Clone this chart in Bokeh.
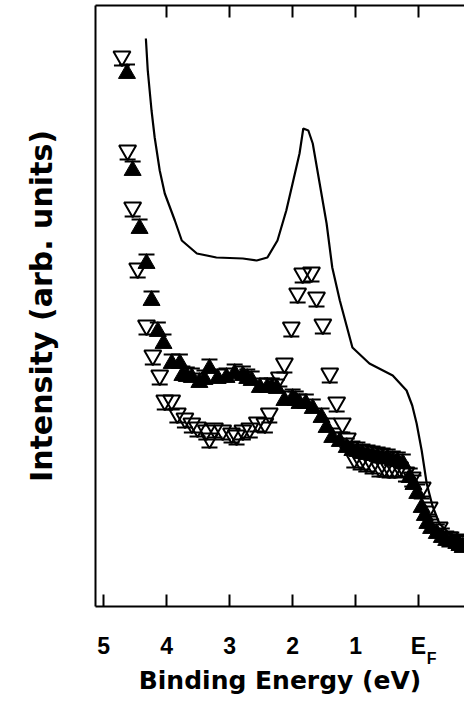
from bokeh.plotting import figure
from bokeh.models import Range1d, LinearAxis, FixedTicker
from bokeh.embed import file_html
from bokeh.resources import INLINE

# Binding energy (eV) and intensity (arb. units)
open_x = [4.71, 4.62, 4.54, 4.46, 4.32, 4.22, 4.11, 4.03, 3.92, 3.83, 3.71, 3.60,
          3.51, 3.37, 3.32, 3.24, 3.11, 2.97, 2.89, 2.79, 2.68, 2.56, 2.44, 2.37,
          2.21, 2.13, 2.02, 1.92, 1.84, 1.70, 1.62, 1.52, 1.41, 1.30, 1.21, 1.13,
          1.02, 0.92, 0.83, 0.73, 0.62, 0.54, 0.46, 0.38, 0.30, 0.20, 0.10, -0.06,
          -0.17, -0.33, -0.49, -0.65]
open_y = [5.50, 4.56, 3.99, 3.38, 2.81, 2.51, 2.31, 2.06, 2.06, 1.93, 1.88, 1.83,
          1.79, 1.76, 1.68, 1.78, 1.76, 1.73, 1.71, 1.76, 1.78, 1.84, 1.83, 1.93,
          2.29, 2.43, 2.79, 3.13, 3.33, 3.34, 3.09, 2.82, 2.33, 2.04, 1.83, 1.68,
          1.48, 1.46, 1.44, 1.42, 1.39, 1.39, 1.38, 1.38, 1.39, 1.34, 1.29, 1.19,
          0.99, 0.79, 0.69, 0.66]

filled_x = [4.63, 4.54, 4.43, 4.32, 4.24, 4.14, 4.05, 3.92, 3.79, 3.75, 3.68, 3.60,
            3.48, 3.40, 3.32, 3.19, 3.05, 2.92, 2.79, 2.72, 2.65, 2.52, 2.40, 2.33,
            2.25, 2.13, 2.00, 1.95, 1.89, 1.79, 1.68, 1.54, 1.46, 1.37, 1.25, 1.14,
            1.05, 0.97, 0.89, 0.81, 0.73, 0.65, 0.57, 0.49, 0.41, 0.33, 0.25, 0.14,
            0.08, 0.02, -0.05, -0.10, -0.14, -0.20, -0.29, -0.37, -0.44, -0.52,
            -0.60, -0.65, -0.70]
filled_y = [5.33, 4.36, 3.78, 3.43, 3.06, 2.75, 2.63, 2.43, 2.43, 2.31, 2.30, 2.29,
            2.24, 2.27, 2.38, 2.28, 2.29, 2.33, 2.31, 2.28, 2.26, 2.19, 2.19, 2.19,
            2.18, 2.06, 2.08, 2.06, 2.03, 2.03, 1.98, 1.89, 1.79, 1.69, 1.65, 1.59,
            1.56, 1.55, 1.53, 1.52, 1.51, 1.50, 1.49, 1.48, 1.46, 1.45, 1.43, 1.29,
            1.22, 1.13, 0.99, 0.91, 0.83, 0.78, 0.73, 0.69, 0.66, 0.65,
            0.63, 0.61, 0.59]

curve_x = [4.33, 4.30, 4.24, 4.19, 4.11, 4.03, 3.87, 3.76, 3.52, 3.21, 2.79, 2.57,
           2.40, 2.24, 2.10, 2.00, 1.89, 1.83, 1.75, 1.68, 1.57, 1.46, 1.37, 1.25,
           1.05, 0.78, 0.41, 0.19, 0.10, 0.03, -0.05, -0.13, -0.22, -0.33, -0.49,
           -0.73]
curve_y = [5.68, 5.36, 4.96, 4.69, 4.36, 4.13, 3.86, 3.66, 3.53, 3.49, 3.48, 3.46,
           3.49, 3.66, 3.96, 4.23, 4.53, 4.78, 4.76, 4.63, 4.23, 3.83, 3.39, 3.06,
           2.59, 2.43, 2.31, 2.16, 2.01, 1.83, 1.56, 1.23, 1.01, 0.83, 0.73, 0.65]

bottom_ticks = [5, 4, 3, 2, 1, 0]
top_ticks = [4, 3, 2, 1, 0]
tick_labels = {5: "5", 4: "4", 3: "3", 2: "2", 1: "1", 0: "E"}
fermi_sub = "F"

X_START, X_END = 5.13, -0.73
Y_START, Y_END = 0.0, 6.01
FRAME_W, FRAME_H = 369, 601

p = figure(frame_width=FRAME_W, frame_height=FRAME_H,
           x_range=Range1d(X_START, X_END), y_range=Range1d(Y_START, Y_END),
           output_backend="svg", toolbar_location=None,
           x_axis_location=None, y_axis_location=None,
           min_border_left=95, min_border_right=0, min_border_top=5,
           min_border_bottom=0)
p.outline_line_color = None
p.grid.visible = False
p.background_fill_color = "white"
p.border_fill_color = "white"

dx_px = (X_START - X_END) / FRAME_W
dy_px = (Y_END - Y_START) / FRAME_H

# bottom axis: ticks and labels
xb = LinearAxis(ticker=FixedTicker(ticks=bottom_ticks),
                major_label_overrides=tick_labels)
xb.major_tick_in = 12
xb.major_tick_out = 0
xb.minor_tick_in = 0
xb.minor_tick_out = 0
xb.axis_line_width = 2
xb.major_tick_line_width = 2
xb.major_label_standoff = 26
xb.major_label_text_font = "Liberation Sans"
xb.major_label_text_font_style = "bold"
xb.major_label_text_font_size = "23px"
xb.major_label_text_color = "black"
p.add_layout(xb, "below")

# second bottom axis: subscript F of E_F and the axis title
sub_pos = 0 - 13 * dx_px
xs = LinearAxis(ticker=FixedTicker(ticks=[sub_pos]),
                major_label_overrides={sub_pos: fermi_sub},
                axis_label="Binding Energy (eV)")
xs.axis_line_color = None
xs.major_tick_line_color = None
xs.minor_tick_line_color = None
xs.major_tick_in = 0
xs.major_tick_out = 0
xs.minor_tick_in = 0
xs.minor_tick_out = 0
xs.major_label_standoff = -12
xs.major_label_text_font = "Liberation Sans"
xs.major_label_text_font_style = "bold"
xs.major_label_text_font_size = "16px"
xs.major_label_text_color = "black"
xs.axis_label_standoff = -4
xs.axis_label_text_font = "DejaVu Sans"
xs.axis_label_text_font_style = "bold"
xs.axis_label_text_font_size = "25px"
xs.axis_label_text_color = "black"
p.add_layout(xs, "below")

# top axis (ticks only)
xt = LinearAxis(ticker=FixedTicker(ticks=top_ticks),
                major_label_overrides={t: "" for t in top_ticks})
xt.major_tick_in = 12
xt.major_tick_out = 0
xt.minor_tick_in = 0
xt.minor_tick_out = 0
xt.axis_line_width = 2
xt.major_tick_line_width = 2
xt.major_label_standoff = 0
p.add_layout(xt, "above")

# left axis (line only)
yl = LinearAxis(ticker=FixedTicker(ticks=[]),
                axis_label="Intensity (arb. units)")
yl.major_tick_in = 0
yl.major_tick_out = 0
yl.minor_tick_in = 0
yl.minor_tick_out = 0
yl.axis_line_width = 2
yl.axis_label_standoff = 37
yl.axis_label_text_font = "DejaVu Sans"
yl.axis_label_text_font_style = "bold"
yl.axis_label_text_font_size = "30px"
yl.axis_label_text_color = "black"
p.add_layout(yl, "left")

cap = 9 * dy_px

# solid curve
p.line(curve_x, curve_y, line_color="black", line_width=2.2)

# open inverted triangles with cap below
p.scatter(open_x, [y - cap for y in open_y], marker="dash",
          size=16, line_color="black", line_width=2)
p.scatter(open_x, open_y, marker="inverted_triangle", size=17,
          fill_alpha=0, line_color="black", line_width=2)

# filled triangles with cap above
p.scatter(filled_x, [y + cap for y in filled_y], marker="dash",
          size=16, line_color="black", line_width=2)
p.scatter(filled_x, filled_y, marker="triangle", size=17,
          fill_color="black", line_color="black", line_width=1)

open("out.html", "w").write(file_html(p, INLINE))
